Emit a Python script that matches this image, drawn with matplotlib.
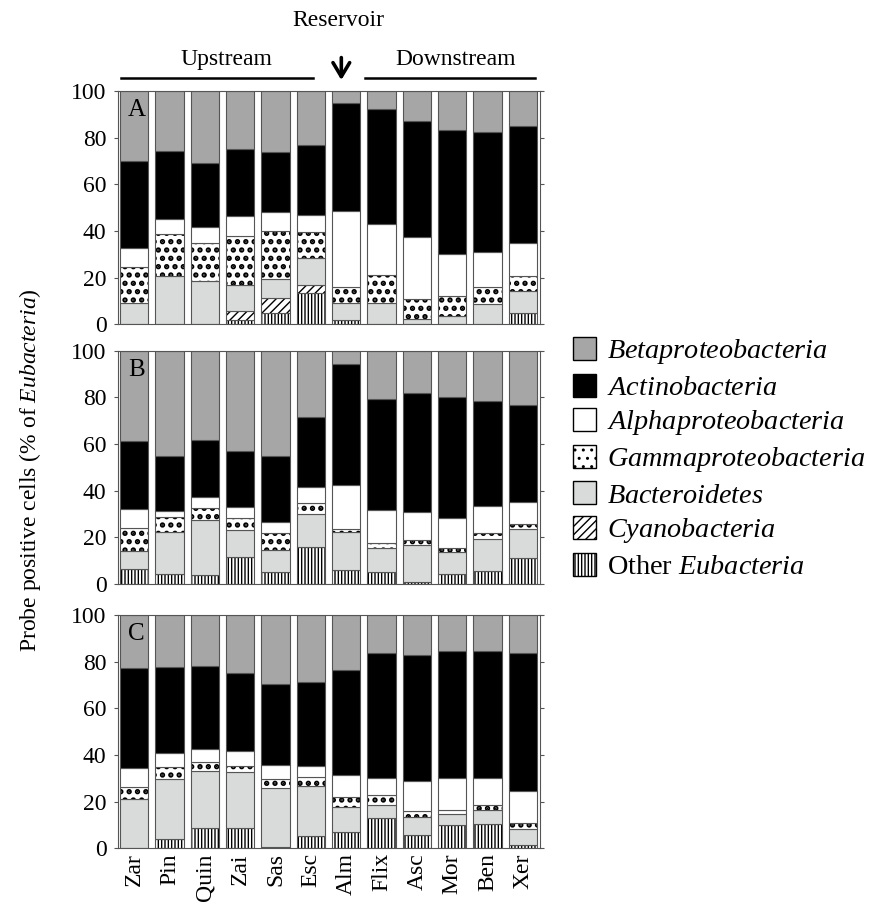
import matplotlib
matplotlib.use("Agg")
import matplotlib.pyplot as plt
from matplotlib.patches import Patch
import numpy as np

plt.rcParams['font.family'] = ['Liberation Serif', 'DejaVu Serif']
plt.rcParams['mathtext.fontset'] = 'custom'
plt.rcParams['mathtext.rm'] = 'Liberation Serif'
plt.rcParams['mathtext.it'] = 'Liberation Serif:italic'
plt.rcParams['hatch.linewidth'] = 1.0

sites = ["Zar", "Pin", "Quin", "Zai", "Sas", "Esc",
         "Alm", "Flix", "Asc", "Mor", "Ben", "Xer"]

# panel A  (% of Eubacteria, bottom to top)
A_other  = [0, 0, 0, 2.1, 5.1, 13.3, 2.0, 0, 0, 0, 0, 5.0]
A_cyano  = [0, 0, 0, 3.6, 6.3, 3.7, 0, 0, 0, 0, 0, 0]
A_bact   = [9.0, 20.9, 18.6, 11.0, 7.9, 11.3, 7.0, 9.3, 2.3, 3.7, 8.7, 9.4]
A_gamma  = [15.7, 17.7, 16.1, 21.4, 20.8, 11.1, 7.1, 12.1, 8.8, 8.4, 7.2, 6.5]
A_alpha  = [8.2, 6.5, 6.9, 8.2, 7.9, 7.5, 32.6, 21.6, 26.5, 18.0, 15.1, 13.8]
A_actino = [37.1, 29.2, 27.7, 29.0, 25.7, 29.8, 46.3, 49.1, 49.7, 53.2, 51.6, 50.4]
A_beta   = [30.0, 25.7, 30.7, 24.7, 26.3, 23.3, 5.0, 7.9, 12.7, 16.7, 17.4, 14.9]

# panel B
B_other  = [6.3, 4.3, 3.9, 11.7, 5.1, 16.0, 5.9, 5.1, 0.7, 4.4, 5.4, 11.0]
B_cyano  = [0, 0, 0, 0, 0, 0, 0, 0, 0, 0, 0, 0]
B_bact   = [8.0, 18.1, 23.5, 11.3, 9.5, 14.0, 16.2, 10.5, 15.9, 9.5, 14.0, 12.4]
B_gamma  = [9.6, 6.5, 5.2, 5.4, 7.1, 4.6, 1.5, 1.8, 2.3, 1.5, 2.3, 2.3]
B_alpha  = [8.2, 2.4, 4.5, 4.5, 5.0, 6.8, 18.7, 14.3, 11.8, 12.9, 11.9, 9.3]
B_actino = [29.2, 23.6, 24.5, 24.1, 28.3, 30.0, 52.0, 47.7, 51.3, 51.8, 44.7, 41.6]
B_beta   = [38.7, 45.1, 38.4, 43.0, 45.0, 28.6, 5.7, 20.6, 18.0, 19.9, 21.7, 23.4]

# panel C
C_other  = [0, 4.1, 8.6, 8.9, 0.7, 5.3, 7.0, 13.1, 5.7, 10.0, 10.3, 1.4]
C_cyano  = [0, 0, 0, 0, 0, 0, 0, 0, 0, 0, 0, 0]
C_bact   = [21.3, 25.5, 24.7, 24.0, 25.0, 21.6, 10.9, 5.5, 7.6, 4.7, 6.0, 6.9]
C_gamma  = [4.8, 5.1, 3.8, 2.4, 4.0, 3.7, 4.2, 4.1, 2.7, 1.6, 2.4, 2.4]
C_alpha  = [8.5, 6.0, 5.5, 6.3, 6.0, 4.5, 9.2, 7.3, 12.9, 14.0, 11.3, 13.9]
C_actino = [42.5, 36.9, 35.4, 33.7, 34.9, 36.0, 45.1, 53.6, 53.7, 54.4, 54.7, 59.0]
C_beta   = [22.9, 22.4, 22.0, 24.7, 29.4, 28.9, 23.6, 16.4, 17.4, 15.3, 15.3, 16.4]

labels = [r"Other $\mathit{Eubacteria}$", r"$\mathit{Cyanobacteria}$",
          r"$\mathit{Bacteroidetes}$", r"$\mathit{Gammaproteobacteria}$",
          r"$\mathit{Alphaproteobacteria}$", r"$\mathit{Actinobacteria}$",
          r"$\mathit{Betaproteobacteria}$"]

# style of each group, bottom to top: (facecolor, hatch, hatch linewidth)
styles = [("white", "|||||", 1.0), ("white", "////", 1.0),
          ("#d9dbdb", None, 1.0), ("white", "..", 2.6),
          ("white", None, 1.0), ("black", None, 1.0), ("#a6a6a6", None, 1.0)]

panels = [("A", [A_other, A_cyano, A_bact, A_gamma, A_alpha, A_actino, A_beta]),
          ("B", [B_other, B_cyano, B_bact, B_gamma, B_alpha, B_actino, B_beta]),
          ("C", [C_other, C_cyano, C_bact, C_gamma, C_alpha, C_actino, C_beta])]

fig = plt.figure(figsize=(8.73, 9.21), dpi=100)

left, width = 0.1348, 0.4832
bottoms = [0.6477, 0.3659, 0.0789]
height = 0.2535
edge = "#555555"
fs = 17

x = np.arange(len(sites))
axes = []
for (name, groups), bot in zip(panels, bottoms):
    ax = fig.add_axes([left, bot, width, height])
    base = np.zeros(len(sites))
    for vals, (fc, hatch, hlw) in zip(groups, styles):
        vals = np.array(vals)
        if hatch:
            with plt.rc_context({'hatch.linewidth': hlw}):
                ax.bar(x, vals, 0.8, bottom=base, color=fc, hatch=hatch,
                       edgecolor="black", linewidth=0)
            ax.bar(x, vals, 0.8, bottom=base, fill=False,
                   edgecolor=edge, linewidth=0.8)
        else:
            ax.bar(x, vals, 0.8, bottom=base, color=fc,
                   edgecolor=edge, linewidth=0.8)
        base += vals
    ax.set_xlim(-0.47, 11.47)
    ax.set_ylim(0, 100)
    ax.set_yticks([0, 20, 40, 60, 80, 100])
    ax.tick_params(axis='y', which='both', labelsize=fs, length=3,
                   direction='out', color=edge, pad=5)
    ax.tick_params(axis='y', right=True)
    ax.tick_params(axis='x', length=0)
    for sp in ax.spines.values():
        sp.set_color(edge)
        sp.set_linewidth(0.8)
    ax.text(0.025, 0.965, name, transform=ax.transAxes, fontsize=fs + 1,
            ha='left', va='top')
    if name == "C":
        ax.set_xticks(x)
        ax.set_xticklabels(sites, rotation=90, fontsize=fs)
    else:
        ax.set_xticks([])
    axes.append(ax)

# river position labels above panel A
axA = axes[0]
trans = axA.get_xaxis_transform()
axA.plot([-0.37, 5.07], [1.055, 1.055], color='black', lw=1.8,
         transform=trans, clip_on=False)
axA.plot([6.54, 11.33], [1.055, 1.055], color='black', lw=1.8,
         transform=trans, clip_on=False)
axA.text(2.6, 1.09, "Upstream", transform=trans, fontsize=fs,
         ha='center', va='bottom')
axA.text(9.1, 1.09, "Downstream", transform=trans, fontsize=fs,
         ha='center', va='bottom')
axA.text(5.77, 1.255, "Reservoir", transform=trans, fontsize=fs,
         ha='center', va='bottom')
axA.annotate("", xy=(5.86, 1.035), xytext=(5.86, 1.155),
             xycoords=trans, textcoords=trans,
             arrowprops=dict(arrowstyle='->,head_length=0.5,head_width=0.3',
                             lw=2.6, color='black', mutation_scale=20))

fig.text(30 / 873, 1 - 470 / 921,
         r"Probe positive cells (% of $\mathit{Eubacteria}$)",
         rotation=90, fontsize=fs, ha='center', va='center')

handles = [Patch(facecolor=fc, hatch=h, edgecolor='black', linewidth=1.0)
           for fc, h, _ in styles]
fig.legend(handles[::-1], labels[::-1], loc='upper left',
           bbox_to_anchor=(573 / 873, 1 - 337 / 921), frameon=False,
           fontsize=20.3, handlelength=0.8, handleheight=0.88,
           handletextpad=0.4, labelspacing=0.26, borderpad=0,
           borderaxespad=0)

fig.savefig("out.png", dpi=100)
